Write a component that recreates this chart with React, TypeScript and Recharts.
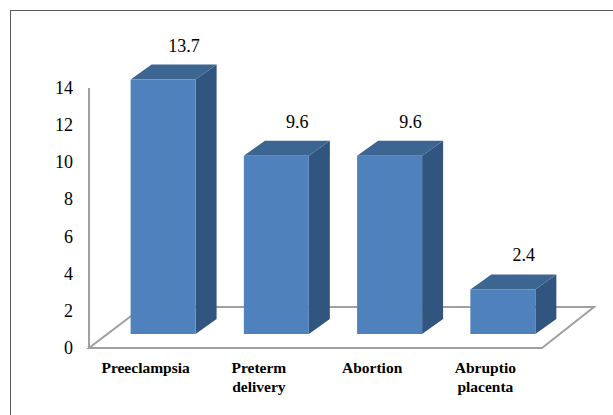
import React from 'react';
import { BarChart, Bar, XAxis, YAxis, ReferenceArea, LabelList } from 'recharts';

const categories = ['Preeclampsia', 'Preterm delivery', 'Abortion', 'Abruptio placenta'];
const values = [13.7, 9.6, 9.6, 2.4];
const yTicks = [0, 2, 4, 6, 8, 10, 12, 14];

const data = categories.map((name, i) => ({ name, value: values[i] }));

const FONT = "'Liberation Serif', 'Times New Roman', serif";
const FRONT = '#4F81BD';
const TOP = '#3C6592';
const SIDE = '#32557F';
const GRID = '#A0A0A0';

const SHIFT_X = 17.6;
const SHIFT_Y = -14;
const DEPTH_X = 21;
const DEPTH_Y = -15;

const Bar3D = (props: any) => {
  const { x, y, width, height } = props;
  if (height == null || width == null) return null;
  const fx = x + SHIFT_X;
  const fy = y + SHIFT_Y;
  const top = `${fx},${fy} ${fx + DEPTH_X},${fy + DEPTH_Y} ${fx + width + DEPTH_X},${fy + DEPTH_Y} ${fx + width},${fy}`;
  const side = `${fx + width},${fy} ${fx + width + DEPTH_X},${fy + DEPTH_Y} ${fx + width + DEPTH_X},${fy + height + DEPTH_Y} ${fx + width},${fy + height}`;
  return (
    <g>
      <polygon points={side} fill={SIDE} />
      <polygon points={top} fill={TOP} />
      <rect x={fx} y={fy} width={width} height={height} fill={FRONT} />
    </g>
  );
};

const Floor = (props: any) => {
  const { x, y, width, height } = props;
  const by = y + height;
  const pts = `${x},${by} ${x + width},${by} ${x + width + 52},${by - 41} ${x + 54},${by - 41}`;
  return <polygon points={pts} fill="none" stroke={GRID} strokeWidth={2} strokeLinejoin="miter" />;
};

const XTick = (props: any) => {
  const { x, payload } = props;
  const words = String(payload.value).split(' ');
  const baseY = 373;
  return (
    <text x={x} y={baseY} textAnchor="middle" fontFamily={FONT} fontWeight="bold" fontSize={15.5} fill="#000">
      {words.map((w, i) => (
        <tspan key={i} x={x} y={baseY + i * 19}>{w}</tspan>
      ))}
    </text>
  );
};

const ValueLabel = (props: any) => {
  const { x, y, width, value } = props;
  return (
    <text x={x + SHIFT_X + width / 2 + 21} y={y - 42} textAnchor="middle" fontFamily={FONT} fontSize={18} fill="#000">
      {value}
    </text>
  );
};

const YTick = (props: any) => {
  const { x, y, payload } = props;
  return (
    <text x={x} y={y + 6} textAnchor="end" fontFamily={FONT} fontSize={18} fill="#000">
      {payload.value}
    </text>
  );
};

export default function App() {
  return (
    <div style={{ position: 'absolute', left: 0, top: 0, width: 613, height: 415, background: '#fff', overflow: 'hidden' }}>
      <div style={{ position: 'absolute', left: 10, top: 10, width: 700, height: 500, borderLeft: '1.5px solid #595959', borderTop: '1.5px solid #595959' }} />
      <BarChart width={613} height={415} data={data} margin={{ top: 88, right: 71, bottom: 0, left: 0 }} barSize={65}>
        <ReferenceArea y1={0} y2={14} shape={<Floor />} ifOverflow="visible" />
        <XAxis dataKey="name" axisLine={false} tickLine={false} tick={<XTick />} height={67} interval={0} />
        <YAxis
          width={89}
          domain={[0, 14]}
          ticks={yTicks}
          interval={0}
          axisLine={{ stroke: GRID, strokeWidth: 2 }}
          tickLine={false}
          tickSize={0}
          tickMargin={16}
          tick={<YTick />}
        />
        <Bar dataKey="value" shape={<Bar3D />} isAnimationActive={false}>
          <LabelList dataKey="value" content={<ValueLabel />} />
        </Bar>
      </BarChart>
    </div>
  );
}
